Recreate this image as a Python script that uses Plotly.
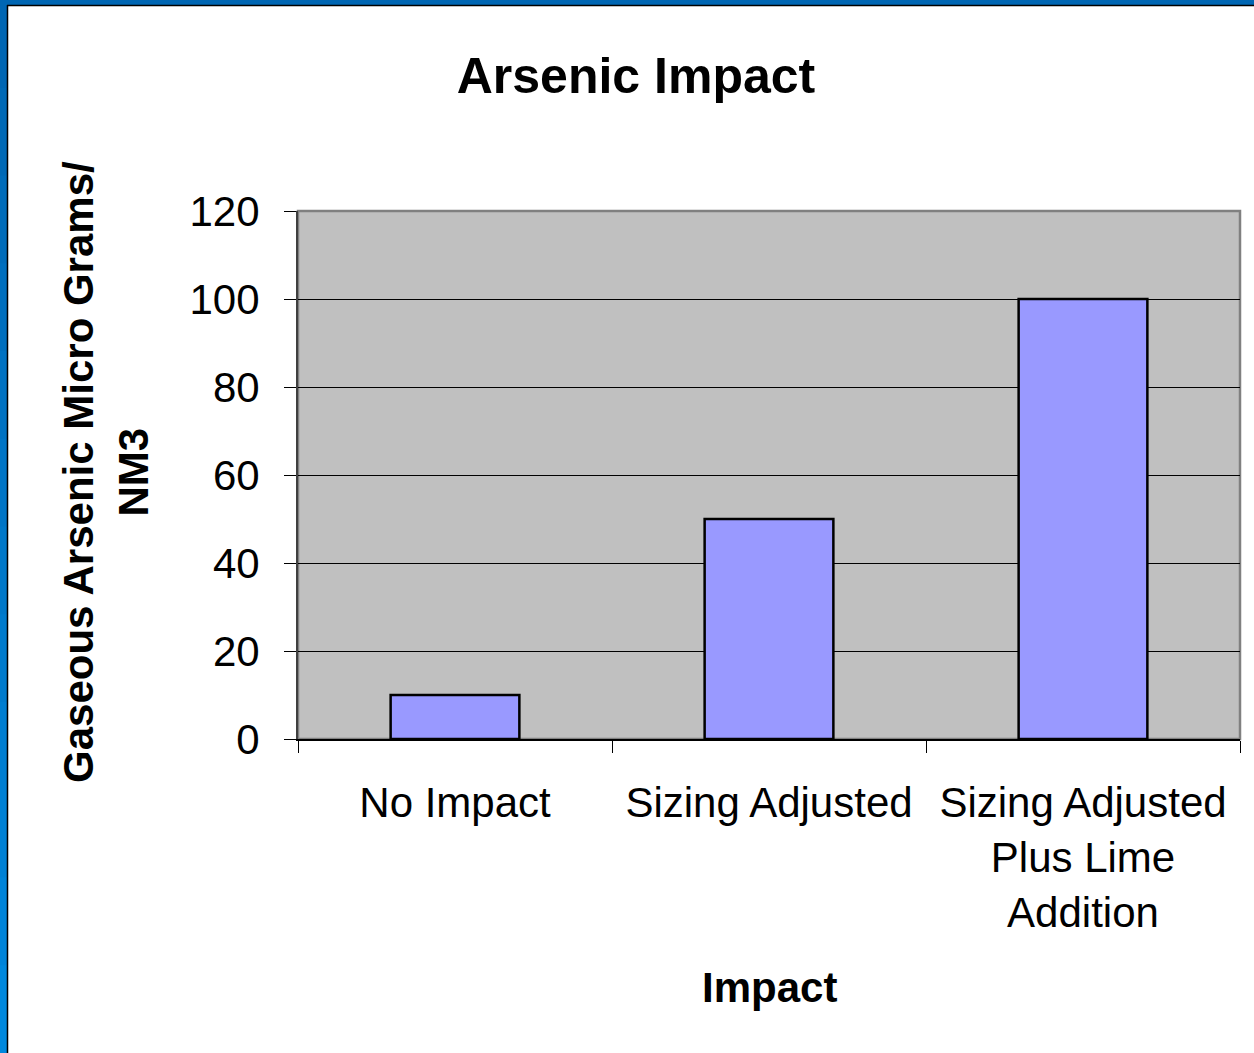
import plotly.graph_objects as go

categories = ["No Impact", "Sizing Adjusted", "Sizing Adjusted<br>Plus Lime<br>Addition"]
values = [10, 50, 100]
y_ticks = [0, 20, 40, 60, 80, 100, 120]

W, H = 1254, 1053
L, R, T, B = 298, 1240, 211, 739
pw, ph = R - L, B - T

def px(x):
    return (x - L) / pw

def py(y):
    return (B - y) / ph

FONT = "Liberation Sans, Arial, sans-serif"

fig = go.Figure(go.Bar(
    x=categories, y=values,
    marker=dict(color="#9999ff", line=dict(color="#000000", width=2.5)),
))

shapes = []
# blue frame: top
shapes.append(dict(type="rect", xref="paper", yref="paper", x0=px(0), x1=px(W), y0=py(0), y1=py(5),
                   fillcolor="#0066b3", line=dict(width=0), layer="above"))
# left frame gradient bands
n = 12
for i in range(n):
    y0p = H * i / n
    y1p = H * (i + 1) / n
    t = i / (n - 1)
    g = int(0x66 + (0x88 - 0x66) * t)
    b = int(0xb3 + (0xdd - 0xb3) * t)
    shapes.append(dict(type="rect", xref="paper", yref="paper", x0=px(0), x1=px(7), y0=py(y0p), y1=py(y1p + 1),
                       fillcolor=f"rgb(0,{g},{b})", line=dict(width=0), layer="above"))
# black inner lines
shapes.append(dict(type="line", xref="paper", yref="paper", x0=px(7), x1=px(W), y0=py(5.5), y1=py(5.5),
                   line=dict(color="#000000", width=1.5), layer="above"))
shapes.append(dict(type="line", xref="paper", yref="paper", x0=px(7.5), x1=px(7.5), y0=py(5), y1=py(H),
                   line=dict(color="#000000", width=1.5), layer="above"))
# plot border gray
shapes.append(dict(type="rect", xref="paper", yref="paper", x0=0, x1=1, y0=0, y1=1,
                   line=dict(color="#808080", width=2.5), layer="below"))

fig.update_layout(
    width=W, height=H,
    margin=dict(l=L, r=W - R, t=T, b=H - B, pad=0),
    paper_bgcolor="#ffffff",
    plot_bgcolor="#c0c0c0",
    showlegend=False,
    bargap=0.59,
    shapes=shapes,
    font=dict(family=FONT, color="#000000", size=42),
    title=dict(text="<b>Arsenic Impact</b>", x=636 / W, xref="container", xanchor="center",
               y=1 - 75 / H, yref="container", yanchor="middle",
               font=dict(family=FONT, size=50, color="#000000")),
    annotations=[
        dict(text="<b>Gaseous Arsenic Micro Grams/<br>NM3</b>", textangle=-90,
             xref="paper", yref="paper", x=px(106), y=py(472), xanchor="center", yanchor="middle",
             showarrow=False, font=dict(family=FONT, size=42, color="#000000")),
        dict(text="<b>Impact</b>", xref="paper", yref="paper", x=px(769), y=py(987),
             xanchor="center", yanchor="middle", showarrow=False,
             font=dict(family=FONT, size=42, color="#000000")),
    ],
)

fig.update_xaxes(
    type="category",
    showline=True, linecolor="#000000", linewidth=2,
    ticks="outside", tickson="boundaries", ticklen=12, tickcolor="#000000", tickwidth=1,
    showgrid=False, zeroline=False,
    ticklabelstandoff=26,
    tickfont=dict(family=FONT, size=42, color="#000000"),
)
fig.update_yaxes(
    range=[0, 120], tickvals=y_ticks,
    showline=True, linecolor="#404040", linewidth=2,
    ticks="outside", ticklen=12, tickcolor="#000000", tickwidth=1,
    showgrid=True, gridcolor="#000000", gridwidth=1,
    zeroline=False,
    ticklabelstandoff=16,
    tickfont=dict(family=FONT, size=42, color="#000000"),
)

fig.write_html("out.html", config={"displayModeBar": False},
               post_script="document.body.style.margin='0';document.body.style.overflow='hidden';")
